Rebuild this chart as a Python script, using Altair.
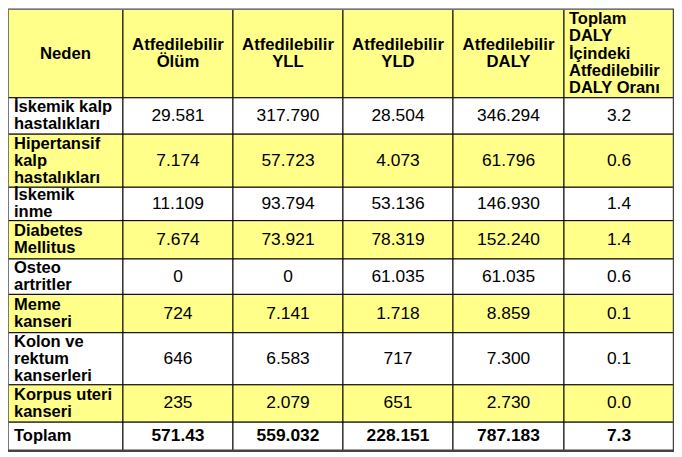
import altair as alt
import pandas as pd

# ---- data (as displayed in the table) ----
headers = ["Neden", "Atfedilebilir\nÖlüm", "Atfedilebilir\nYLL", "Atfedilebilir\nYLD",
           "Atfedilebilir\nDALY", "Toplam\nDALY\nİçindeki\nAtfedilebilir\nDALY Oranı"]
causes = ["İskemik kalp\nhastalıkları", "Hipertansif\nkalp\nhastalıkları", "İskemik\ninme",
          "Diabetes\nMellitus", "Osteo\nartritler", "Meme\nkanseri",
          "Kolon ve\nrektum\nkanserleri", "Korpus uteri\nkanseri"]
olum = ["29.581", "7.174", "11.109", "7.674", "0", "724", "646", "235"]
yll = ["317.790", "57.723", "93.794", "73.921", "0", "7.141", "6.583", "2.079"]
yld = ["28.504", "4.073", "53.136", "78.319", "61.035", "1.718", "717", "651"]
daly = ["346.294", "61.796", "146.930", "152.240", "61.035", "8.859", "7.300", "2.730"]
oran = ["3.2", "0.6", "1.4", "1.4", "0.6", "0.1", "0.1", "0.0"]
total_label = "Toplam"
totals = ["571.43", "559.032", "228.151", "787.183", "7.3"]

# ---- layout ----
COL_W = [116, 111, 111, 111, 112, 111]
ROW_H = [90, 37, 54, 34, 39, 36, 39, 53, 38, 29]
YELLOW = "#FFFF8A"
WHITE = "#FFFFFF"
row_fill = [YELLOW, WHITE, YELLOW, WHITE, YELLOW, WHITE, YELLOW, WHITE, YELLOW, WHITE]
W, H = 670, 444
LINE_H = 17.2  # px

rows = [headers]
for i in range(len(causes)):
    rows.append([causes[i], olum[i], yll[i], yld[i], daly[i], oran[i]])
rows.append([total_label] + totals)

col_edges = [0]
for w in COL_W:
    col_edges.append(col_edges[-1] + w)
row_edges = [0]
for h in ROW_H:
    row_edges.append(row_edges[-1] + h)
TW, TH = col_edges[-1], row_edges[-1]
line_h_data = LINE_H * TH / H

recs = []
nrows = len(rows)
for r, row in enumerate(rows):
    for c, txt in enumerate(row):
        if r == 0:
            kind = "head_left" if c == 5 else "head_center"
        elif c == 0:
            kind = "label"
        elif r == nrows - 1:
            kind = "total"
        else:
            kind = "value"
        nlines = txt.count("\n") + 1
        ym = (row_edges[r] + row_edges[r + 1]) / 2
        recs.append(dict(
            x0=col_edges[c], x1=col_edges[c + 1],
            y0=row_edges[r], y1=row_edges[r + 1],
            xm=(col_edges[c] + col_edges[c + 1]) / 2,
            yt=ym - (nlines - 1) / 2 * line_h_data,
            fill=row_fill[r], text=txt, kind=kind))
df = pd.DataFrame(recs)

xs = alt.Scale(domain=[0, TW], nice=False, zero=False)
ys = alt.Scale(domain=[0, TH], nice=False, zero=False, reverse=True)

base = alt.Chart(df)

cells = base.mark_rect(stroke="#000000", strokeWidth=1).encode(
    x=alt.X("x0:Q", scale=xs, axis=None),
    x2="x1:Q",
    y=alt.Y("y0:Q", scale=ys, axis=None),
    y2="y1:Q",
    fill=alt.Fill("fill:N", scale=None),
)

FONT = "Liberation Sans"

def text_layer(kind, align, bold, xfield, dx, size):
    return base.transform_filter(alt.datum.kind == kind).mark_text(
        align=align, baseline="middle", font=FONT, fontSize=size,
        fontWeight="bold" if bold else "normal", lineBreak="\n",
        lineHeight=LINE_H, dx=dx, color="#000000",
    ).encode(
        x=alt.X(f"{xfield}:Q", scale=xs, axis=None),
        y=alt.Y("yt:Q", scale=ys, axis=None),
        text="text:N",
    )

t_label = text_layer("label", "left", True, "x0", 6, 16.6)
t_hc = text_layer("head_center", "center", True, "xm", 0, 16.8)
t_hl = text_layer("head_left", "left", True, "x0", 5, 16.6)
t_val = text_layer("value", "center", False, "xm", 0, 17.5)
t_tot = text_layer("total", "center", True, "xm", 0, 17.5)

# outer frame: light top/left, dark heavier right/bottom
frame_df = pd.DataFrame([
    dict(x0=0, x1=TW, y0=0, y1=0, side="light"),
    dict(x0=0, x1=0, y0=0, y1=TH, side="light"),
    dict(x0=TW, x1=TW, y0=0, y1=TH, side="dark"),
    dict(x0=0, x1=TW, y0=TH, y1=TH, side="dark"),
])
frame_base = alt.Chart(frame_df).encode(
    x=alt.X("x0:Q", scale=xs, axis=None), x2="x1:Q",
    y=alt.Y("y0:Q", scale=ys, axis=None), y2="y1:Q",
)
frame_light = frame_base.transform_filter(alt.datum.side == "light").mark_rule(
    color="#777777", strokeWidth=1.5)
frame_dark = frame_base.transform_filter(alt.datum.side == "dark").mark_rule(
    color="#444444", strokeWidth=2.5)

chart = alt.layer(cells, frame_light, frame_dark, t_label, t_hc, t_hl, t_val, t_tot).properties(
    width=W, height=H, padding=0, autosize=alt.AutoSizeParams(type="none")
).configure_view(strokeWidth=0)

chart.save("out.html", embed_options={"renderer": "svg", "actions": False})
